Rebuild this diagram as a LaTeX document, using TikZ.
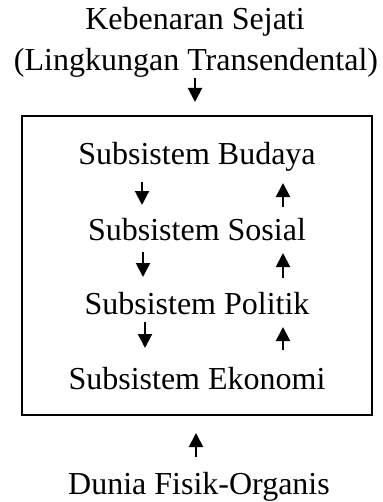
\documentclass[tikz,border=0pt]{standalone}
\usepackage{fontspec}
\setmainfont{Liberation Serif}
\usetikzlibrary{arrows.meta}

\tikzset{
	lbl/.style={inner sep=0pt, anchor=base, font=\fontsize{16}{19}\selectfont},
	arr/.style={line width=1pt, -{Triangle[width=7pt,length=7pt]}},
}

\begin{document}
\begin{tikzpicture}[x=0.5pt,y=-0.5pt]
				\useasboundingbox (0,0) rectangle (383,502);
				
				\path (195,30) node[lbl] (keb) {Kebenaran Sejati};
				\path (196,71) node[lbl] (trans) {(Lingkungan Transendental)};
				
				\node[draw, line width=1pt, minimum width=175pt, minimum height=149.5pt, inner sep=0pt] (sys) at (197,265.5) {};
				
				\path (197,165) node[lbl] (budaya) {Subsistem Budaya};
				\path (197,240) node[lbl] (sosial) {Subsistem Sosial};
				\path (197,314) node[lbl] (politik) {Subsistem Politik};
				\path (197,389) node[lbl] (ekonomi) {Subsistem Ekonomi};
				
				\path (199,494) node[lbl] (dunia) {Dunia Fisik-Organis};
				
				\draw[arr] ([shift={(-1,7)}]trans.base) -- ([shift={(-2,-13)}]sys.north);
				
				\draw[arr] ([shift={(-55,17)}]budaya.base) -- ([shift={(-55,-35)}]sosial.base);
				\draw[arr] ([shift={(86,-33)}]sosial.base) -- ([shift={(86,18)}]budaya.base);
				\draw[arr] ([shift={(-54,12)}]sosial.base) -- ([shift={(-54,-37)}]politik.base);
				\draw[arr] ([shift={(86,-36)}]politik.base) -- ([shift={(86,13)}]sosial.base);
				\draw[arr] ([shift={(-52,8)}]politik.base) -- ([shift={(-52,-41)}]ekonomi.base);
				\draw[arr] ([shift={(86,-39)}]ekonomi.base) -- ([shift={(86,13)}]politik.base);
				
				\draw[arr] ([shift={(-3,-37)}]dunia.base) -- ([shift={(-1,17)}]sys.south);
\end{tikzpicture}
\end{document}
